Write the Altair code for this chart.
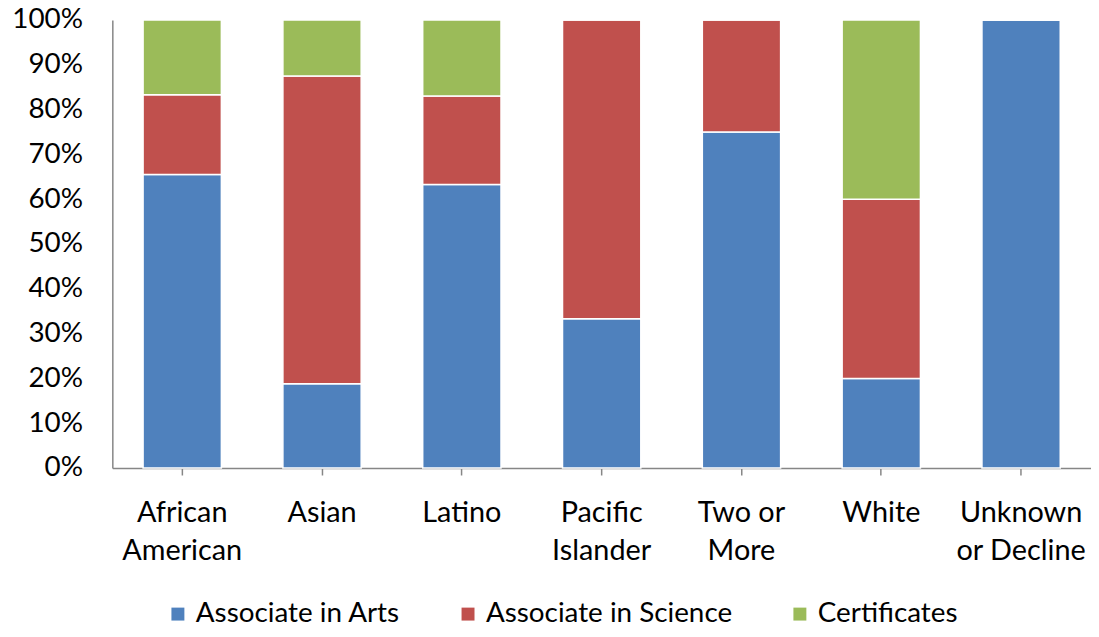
import altair as alt
import pandas as pd

categories = ["African|American", "Asian", "Latino", "Pacific|Islander", "Two or|More", "White", "Unknown|or Decline"]
series = ["Associate in Arts", "Associate in Science", "Certificates"]
colors = ["#4F81BD", "#C0504D", "#9BBB59"]
assoc_arts = [0.655, 0.188, 0.633, 0.333, 0.75, 0.20, 1.0]
assoc_science = [0.178, 0.687, 0.197, 0.667, 0.25, 0.40, 0.0]
certificates = [0.167, 0.125, 0.170, 0.0, 0.0, 0.40, 0.0]

rows = []
for i, c in enumerate(categories):
    for j, (s, vals) in enumerate(zip(series, [assoc_arts, assoc_science, certificates])):
        rows.append({"cat": c, "series": s, "value": vals[i], "ord": j})
df = pd.DataFrame(rows)

FONT = "Lato"
FSX = 29
FSY = 28
FSL = 28

chart = alt.Chart(df).mark_bar(stroke="white", strokeWidth=1.5).encode(
    x=alt.X("cat:N", sort=categories,
            scale=alt.Scale(paddingInner=0.44, paddingOuter=0.22),
            axis=alt.Axis(title=None, labelAngle=0, labelExpr="split(datum.label, '|')",
                          labelFontSize=FSX, labelFont=FONT, labelColor="black",
                          labelLineHeight=38, labelPadding=24, labelBaseline="top",
                          labelLimit=0,
                          domainColor="#868686", domainWidth=1.5,
                          tickColor="#868686", tickSize=7, tickWidth=1.5)),
    y=alt.Y("value:Q", stack="zero",
            scale=alt.Scale(domain=[0, 1], nice=False),
            axis=alt.Axis(title=None, format=".0%", values=[i / 10 for i in range(11)],
                          grid=False, ticks=False, labelPadding=30,
                          labelFontSize=FSY, labelFont=FONT, labelColor="black",
                          domainColor="#868686", domainWidth=1.5)),
    color=alt.Color("series:N", sort=series,
                    scale=alt.Scale(domain=series, range=colors),
                    legend=alt.Legend(title=None, orient="none", direction="horizontal",
                                      legendX=52, legendY=584,
                                      symbolType="square", symbolSize=170,
                                      symbolStrokeWidth=0, labelFontSize=FSL,
                                      labelFont=FONT, labelColor="black", labelLimit=0,
                                      labelOffset=4, columnPadding=54)),
    order=alt.Order("ord:Q"),
).properties(
    width=985, height=451,
    autosize=alt.AutoSizeParams(type="none"),
    padding={"left": 105, "top": 10, "right": 0, "bottom": 160},
).configure_view(stroke=None)

chart.save("out.html", embed_options={"renderer": "svg", "actions": False})
